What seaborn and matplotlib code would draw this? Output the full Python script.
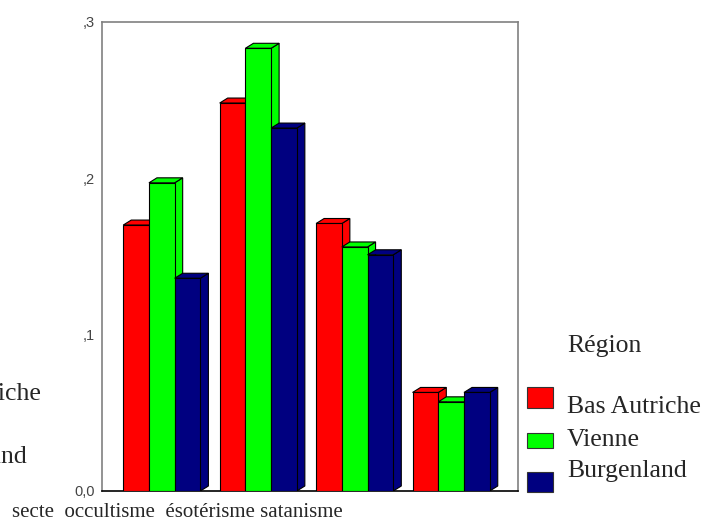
import pandas as pd
import matplotlib
matplotlib.use("Agg")
import matplotlib.pyplot as plt
from matplotlib.patches import Polygon, Rectangle
import seaborn as sns

# Daten
categories = ['secte', 'occultisme', 'ésotérisme', 'satanisme']
regions = ['Bas Autriche', 'Vienne', 'Burgenland']
bas_autriche = [0.170, 0.248, 0.171, 0.063]
vienne = [0.197, 0.283, 0.156, 0.057]
burgenland = [0.136, 0.232, 0.151, 0.063]
colors = ['#ff0000', '#00ff00', '#000080']
ytick_values = [0.0, 0.1, 0.2, 0.3]
ytick_labels = ['0,0', ',1', ',2', ',3']

W, H = 707, 522

df = pd.DataFrame({
    'categorie': categories * 3,
    'region': [r for r in regions for _ in categories],
    'valeur': bas_autriche + vienne + burgenland,
})

sns.set_style('white')
plt.rcParams['font.family'] = ['Liberation Serif', 'DejaVu Serif']

fig = plt.figure(figsize=(W / 100, H / 100), dpi=100)
ax = fig.add_axes([102 / W, 1 - 491 / H, (517.7 - 102) / W, (491 - 21.7) / H])

sns.barplot(data=df, x='categorie', y='valeur', hue='region', order=categories,
            hue_order=regions, palette=colors, edgecolor='black', linewidth=0.8,
            saturation=1, legend=False, ax=ax, errorbar=None)

# 3D-Effekt: Seiten- und Deckflaechen
dx = 8 / 96.3
dy = 5 / 1565
bars = sorted(ax.patches, key=lambda p: p.get_x())
for i, p in enumerate(bars):
    x0, w, h = p.get_x(), p.get_width(), p.get_height()
    col = p.get_facecolor()
    base = 3 + i
    side = Polygon([(x0 + w, 0), (x0 + w + dx, dy), (x0 + w + dx, h + dy), (x0 + w, h)],
                   closed=True, facecolor=col, edgecolor='black', linewidth=0.8, zorder=base)
    top = Polygon([(x0, h), (x0 + dx, h + dy), (x0 + w + dx, h + dy), (x0 + w, h)],
                  closed=True, facecolor=col, edgecolor='black', linewidth=0.8, zorder=base)
    ax.add_patch(side)
    ax.add_patch(top)
    p.set_zorder(base + 0.5)

ax.set_xlim(-0.62, 3.69)
ax.set_ylim(0, 0.3)
ax.set_xlabel('')
ax.set_ylabel('')
ax.set_xticks(range(len(categories)))
ax.set_xticklabels([''] * len(categories))
ax.set_yticks(ytick_values)
ax.set_yticklabels(ytick_labels, fontfamily='Liberation Sans', fontsize=10.5, color='#444444')
ax.tick_params(axis='both', direction='out', length=2.2, width=2.2, color='black', pad=3)

for s in ['left', 'top', 'right']:
    ax.spines[s].set_color('#808080')
    ax.spines[s].set_linewidth(1.2)
ax.spines['bottom'].set_color('black')
ax.spines['bottom'].set_linewidth(1.2)

# Kategorien als eine Zeile unter der Achse
fig.text(12 / W, 1 - 517 / H, '  '.join(categories[:3]) + ' ' + categories[3],
         fontsize=15, va='baseline', ha='left')

# Legende
fig.text(567 / W, 1 - 352 / H, 'Région', fontsize=18.5, va='baseline')
text_y = [413, 446, 477]
box_y = [(387, 408), (433, 448), (472, 492)]
for name, col, ty, (b0, b1) in zip(regions, colors, text_y, box_y):
    fig.text(567 / W, 1 - ty / H, name, fontsize=18.5, va='baseline')
    fig.add_artist(Rectangle((527 / W, 1 - b1 / H), 26 / W, (b1 - b0) / H,
                             transform=fig.transFigure, facecolor=col,
                             edgecolor='#333333', linewidth=0.8))

# abgeschnittene zweite Legende am linken Rand (auch im Original abgeschnitten)
fig.text(-93 / W, 1 - 400 / H, regions[0], fontsize=18.5, va='baseline')
fig.text(-93 / W, 1 - 463 / H, regions[2], fontsize=18.5, va='baseline')

fig.savefig('out.png', dpi=100)
